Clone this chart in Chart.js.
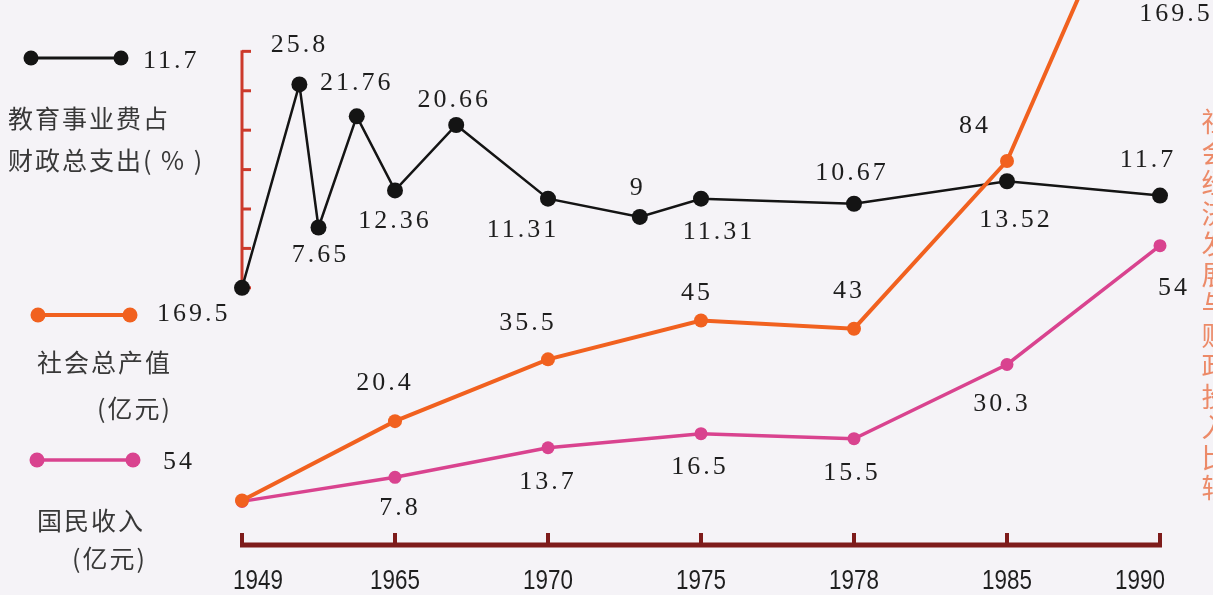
<!DOCTYPE html>
<html>
<head>
<meta charset="utf-8">
<script src="https://cdn.jsdelivr.net/npm/chart.js@4"></script>
<style>
  html, body { margin: 0; padding: 0; background: #f5f3f7; overflow: hidden; }
</style>
</head>
<body>
<canvas id="chart" width="1213" height="595"></canvas>
<script>
// category years on the bottom axis
const years = [1949, 1965, 1970, 1975, 1978, 1985, 1990];
// 社会总产值 (亿元)
const outputValues = [1, 20.4, 35.5, 45, 43, 84, 169.5];
// 国民收入 (亿元)
const incomeValues = [3, 7.8, 13.7, 16.5, 15.5, 30.3, 54];
// 教育事业费占财政总支出 (%)
const eduYears = [1949, 1955, 1957, 1961, 1965, 1967, 1970, 1973, 1975, 1978, 1985, 1990];
const eduValues = [0, 25.8, 7.65, 21.76, 12.36, 20.66, 11.31, 9, 11.31, 10.67, 13.52, 11.7];
const eduTicks = [0, 5, 10, 15, 20, 25, 30];
const sideTitle = "社会经济发展与财政投入比较";

const BLACK = "#141414";
const ORANGE = "#f1611f";
const PINK = "#d9438f";
const TEXT = "#1e1e1e";

// label offsets from each point (style only)
const eduLabelShift = [null, [0, -39], [2, 28], [0, -33], [0, 31], [-2, -25], [-25, 31], [-2, -29], [18, 33], [-2, -31], [9, 39], [-12, -35]];
const outLabelShift = [null, [-10, -38], [-20, -36], [-4, -27], [-5, -38], [-32, -35], [16, -35]];
const incLabelShift = [null, [5, 31], [0, 34], [-1, 33], [-2, 34], [-5, 40], [14, 43]];
const yearShift = [16, 0, 0, 0, 0, 0, -20];

// year -> position along the category axis
function yearPos(y) {
  for (let i = 1; i < years.length; i++) {
    if (y <= years[i]) return i - 1 + (y - years[i - 1]) / (years[i] - years[i - 1]);
  }
  return years.length - 1;
}

function num(ctx, text, x, y, align) {
  ctx.font = '26px "Liberation Serif", "Times New Roman", serif';
  ctx.letterSpacing = "3px";
  ctx.fillStyle = TEXT;
  ctx.textAlign = align || "center";
  ctx.textBaseline = "middle";
  ctx.fillText(text, x, y);
}

function cjk(ctx, text, x, y) {
  ctx.font = '25px "Noto Sans CJK SC", sans-serif';
  ctx.letterSpacing = "2px";
  ctx.fillStyle = "#383838";
  ctx.textAlign = "left";
  ctx.textBaseline = "middle";
  ctx.fillText(text, x, y);
}

function legendLine(ctx, color, x1, x2, y, width) {
  ctx.strokeStyle = color;
  ctx.lineWidth = width;
  ctx.beginPath();
  ctx.moveTo(x1, y);
  ctx.lineTo(x2, y);
  ctx.stroke();
  ctx.fillStyle = color;
  [x1, x2].forEach(x => {
    ctx.beginPath();
    ctx.arc(x, y, 7.5, 0, Math.PI * 2);
    ctx.fill();
  });
}

const decor = {
  id: "decor",
  beforeDraw(chart) {
    const ctx = chart.ctx;
    ctx.save();
    ctx.fillStyle = "#f5f3f7";
    ctx.fillRect(0, 0, chart.width, chart.height);
    ctx.restore();
  },
  beforeDatasetsDraw(chart) {
    const ctx = chart.ctx;
    const xs = chart.scales.x;
    const ye = chart.scales.yEdu;
    const base = chart.chartArea.bottom;
    ctx.save();
    // bottom axis bar
    ctx.strokeStyle = "#7e1b1b";
    ctx.lineWidth = 5;
    ctx.beginPath();
    ctx.moveTo(xs.getPixelForValue(0) - 2, base);
    ctx.lineTo(xs.getPixelForValue(years.length - 1) + 2, base);
    ctx.stroke();
    ctx.lineWidth = 4;
    years.forEach((yr, i) => {
      const px = xs.getPixelForValue(i);
      ctx.beginPath();
      ctx.moveTo(px, base);
      ctx.lineTo(px, base - 12);
      ctx.stroke();
    });
    // year labels
    ctx.fillStyle = "#1e1e1e";
    ctx.textAlign = "center";
    ctx.textBaseline = "middle";
    years.forEach((yr, i) => {
      ctx.save();
      ctx.translate(xs.getPixelForValue(i) + yearShift[i], 581);
      ctx.scale(0.8, 1);
      ctx.font = '28px "Liberation Sans", Arial, sans-serif';
      ctx.fillText(String(yr), 0, 0);
      ctx.restore();
    });
    // red bracket axis for the education share
    const ax = chart.chartArea.left;
    ctx.strokeStyle = "#cc3a2c";
    ctx.lineWidth = 3;
    ctx.beginPath();
    ctx.moveTo(ax, ye.getPixelForValue(eduTicks[0]) + 1);
    ctx.lineTo(ax, ye.getPixelForValue(eduTicks[eduTicks.length - 1]) - 1);
    ctx.stroke();
    eduTicks.forEach(t => {
      const py = ye.getPixelForValue(t);
      ctx.beginPath();
      ctx.moveTo(ax, py);
      ctx.lineTo(ax + 9, py);
      ctx.stroke();
    });
    ctx.restore();
  },
  afterDatasetsDraw(chart) {
    const ctx = chart.ctx;
    ctx.save();
    const groups = [
      [0, outputValues, outLabelShift],
      [1, incomeValues, incLabelShift],
      [2, eduValues, eduLabelShift]
    ];
    groups.forEach(([di, vals, shifts]) => {
      const meta = chart.getDatasetMeta(di);
      meta.data.forEach((pt, i) => {
        const s = shifts[i];
        if (!s) return;
        num(ctx, String(vals[i]), pt.x + s[0], Math.max(pt.y + s[1], 14));
      });
    });

    // legend block on the left
    legendLine(ctx, BLACK, 31, 121, 58, 3);
    num(ctx, String(eduValues[eduValues.length - 1]), 143, 61, "left");
    cjk(ctx, "教育事业费占", 8, 118);
    cjk(ctx, "财政总支出( % )", 8, 160);

    legendLine(ctx, ORANGE, 38, 130, 315, 4);
    num(ctx, String(outputValues[outputValues.length - 1]), 157, 314, "left");
    cjk(ctx, "社会总产值", 37, 362);
    cjk(ctx, "(亿元)", 97, 408);

    legendLine(ctx, PINK, 37, 133, 460, 3.5);
    num(ctx, String(incomeValues[incomeValues.length - 1]), 163, 462, "left");
    cjk(ctx, "国民收入", 37, 520);
    cjk(ctx, "(亿元)", 72, 558);

    // vertical caption cut by the right edge
    ctx.font = '27px "Noto Sans CJK SC", sans-serif';
    ctx.letterSpacing = "0px";
    ctx.fillStyle = "#ec8a68";
    ctx.textAlign = "center";
    ctx.textBaseline = "middle";
    Array.from(sideTitle).forEach((ch, i) => {
      ctx.fillText(ch, 1215, 122 + i * 30.5);
    });
    ctx.restore();
  }
};

new Chart(document.getElementById("chart"), {
  type: "line",
  data: {
    datasets: [
      {
        label: "社会总产值",
        data: years.map((y, i) => ({ x: yearPos(y), y: outputValues[i] })),
        yAxisID: "yOut",
        borderColor: ORANGE,
        backgroundColor: ORANGE,
        pointBackgroundColor: ORANGE,
        borderWidth: 4,
        pointRadius: 7,
        pointBorderWidth: 0,
        clip: false,
        order: 1
      },
      {
        label: "国民收入",
        data: years.map((y, i) => ({ x: yearPos(y), y: incomeValues[i] })),
        yAxisID: "yInc",
        borderColor: PINK,
        backgroundColor: PINK,
        pointBackgroundColor: PINK,
        borderWidth: 3.5,
        pointRadius: 6.5,
        pointBorderWidth: 0,
        clip: false,
        order: 2
      },
      {
        label: "教育事业费占财政总支出(%)",
        data: eduYears.map((y, i) => ({ x: yearPos(y), y: eduValues[i] })),
        yAxisID: "yEdu",
        borderColor: BLACK,
        backgroundColor: BLACK,
        pointBackgroundColor: BLACK,
        borderWidth: 2.5,
        pointRadius: 8,
        pointBorderWidth: 0,
        clip: false,
        order: 3
      }
    ]
  },
  options: {
    responsive: false,
    animation: false,
    devicePixelRatio: 1,
    events: [],
    layout: { padding: { left: 242, right: 53, top: 0, bottom: 50 } },
    plugins: { legend: { display: false }, tooltip: { enabled: false } },
    scales: {
      x: { type: "linear", min: 0, max: years.length - 1, display: false },
      yEdu: { type: "linear", min: -32.625, max: 35.5, display: false },
      yOut: { type: "linear", min: -9.88, max: 121.4, display: false },
      yInc: { type: "linear", min: -5.7, max: 101.4, display: false }
    }
  },
  plugins: [decor]
});
</script>
</body>
</html>
